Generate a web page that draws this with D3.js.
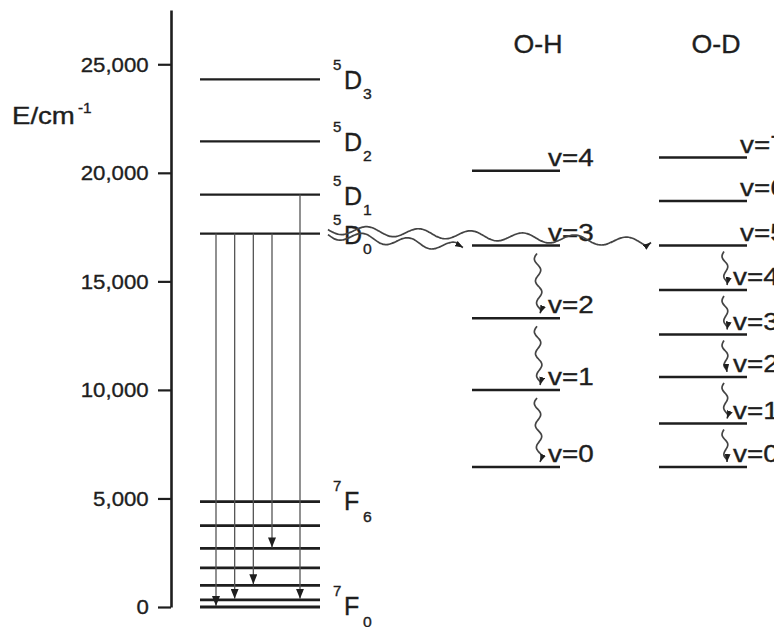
<!DOCTYPE html>
<html><head><meta charset="utf-8">
<script src="https://cdn.jsdelivr.net/npm/d3@7"></script>
<style>
html,body{margin:0;padding:0;background:#fff;}
svg{display:block;font-family:"Liberation Sans",Arial,Helvetica,sans-serif;}
</style></head>
<body>
<svg id="chart" width="774" height="627"></svg>
<script>
// ---------- data ----------
const yTicks = [0, 5000, 10000, 15000, 20000, 25000];
const euNames = ["5D3", "5D2", "5D1", "5D0", "7F6", "7F5", "7F4", "7F3", "7F2", "7F1", "7F0"];
const euEnergies = [24300, 21450, 19000, 17200, 4850, 3750, 2700, 1800, 1000, 330, 0];
const euLabelled = ["5D3", "5D2", "5D1", "5D0", "7F6", "7F0"];
const emissionFrom = ["5D0", "5D0", "5D0", "5D0", "5D1"];
const emissionTo = ["7F0", "7F1", "7F2", "7F4", "7F1"];
const columnTitles = ["O-H", "O-D"];
const ohQuanta = [0, 1, 2, 3, 4];
const ohEnergies = [6450, 10000, 13300, 16650, 20100];
const odQuanta = [0, 1, 2, 3, 4, 5, 6, 7];
const odEnergies = [6450, 8450, 10600, 12550, 14600, 16650, 18700, 20700];
const ohRelax = [[3, 2], [2, 1], [1, 0]];
const odRelax = [[5, 4], [4, 3], [3, 2], [2, 1], [1, 0]];

// ---------- setup ----------
const svg = d3.select("#chart");
const ink = "#1e1e1e";
const y = d3.scaleLinear().domain([0, 27500]).range([607, 10]);
const euE = new Map(euNames.map((n, i) => [n, euEnergies[i]]));
const euX = [200, 320], ohX = [472, 560], odX = [659, 747];

const defs = svg.append("defs");
defs.append("marker").attr("id", "emArrow").attr("markerUnits", "userSpaceOnUse")
  .attr("viewBox", "0 0 10 8").attr("refX", 10).attr("refY", 4)
  .attr("markerWidth", 10).attr("markerHeight", 8).attr("orient", "auto")
  .append("path").attr("d", "M0,0 L10,4 L0,8 Z").attr("fill", ink);
defs.append("marker").attr("id", "wvArrow").attr("markerUnits", "userSpaceOnUse")
  .attr("viewBox", "0 0 8 6").attr("refX", 8).attr("refY", 3)
  .attr("markerWidth", 8).attr("markerHeight", 6).attr("orient", "auto")
  .append("path").attr("d", "M0,0 L8,3 L0,6 Z").attr("fill", ink);

function stext(g, x, yy, str, size, sx, anchor) {
  return g.append("text")
    .attr("transform", `translate(${x},${yy}) scale(${sx || 1},1)`)
    .attr("font-size", size).attr("fill", ink)
    .attr("stroke", ink).attr("stroke-width", 0.35)
    .attr("text-anchor", anchor || "start").text(str);
}

function wavePath(x0, y0, x1, y1, wl, amp) {
  const dx = x1 - x0, dy = y1 - y0, L = Math.hypot(dx, dy);
  const ux = dx / L, uy = dy / L, nx = -uy, ny = ux;
  const n = Math.ceil(L / 1.5), pts = [];
  for (let i = 0; i <= n; i++) {
    const t = i / n * L;
    const env = Math.min(1, (L - t) / 5);
    const off = amp * env * Math.sin(2 * Math.PI * t / wl);
    pts.push([x0 + ux * t + nx * off, y0 + uy * t + ny * off]);
  }
  return d3.line().curve(d3.curveBasis)(pts);
}

// ---------- axis ----------
const axis = svg.append("g").attr("transform", "translate(171,0)")
  .call(d3.axisLeft(y).tickValues(yTicks).tickFormat(d3.format(","))
    .tickSize(13).tickPadding(8).tickSizeOuter(0));
axis.select(".domain").attr("stroke", ink).attr("stroke-width", 2.6);
axis.selectAll(".tick line").attr("stroke", ink).attr("stroke-width", 2.2);
axis.selectAll(".tick text").attr("font-size", 21).attr("fill", ink)
  .attr("stroke", ink).attr("stroke-width", 0.35)
  .attr("font-family", "Liberation Sans, Arial, sans-serif")
  .attr("transform", "scale(1.06,1)");

const yl = svg.append("g");
stext(yl, 12, 124, "E/cm", 23, 1.2);
stext(yl, 78, 113, "-1", 14, 1.1);

// ---------- Eu levels ----------
svg.append("g").selectAll("line").data(euNames).join("line")
  .attr("x1", euX[0]).attr("x2", euX[1])
  .attr("y1", d => y(euE.get(d))).attr("y2", d => y(euE.get(d)))
  .attr("stroke", ink).attr("stroke-width", d => d[1] === "F" ? 2.8 : 2.2);

// emission lines
const emFromD0 = d3.scaleLinear().domain([0, 3]).range([216, 272]);
const emG = svg.append("g");
emissionFrom.forEach((f, i) => {
  const x = f === "5D0" ? emFromD0(i) : euX[1] - 20;
  emG.append("line").attr("x1", x).attr("x2", x)
    .attr("y1", y(euE.get(f))).attr("y2", y(euE.get(emissionTo[i])) - 1)
    .attr("stroke", "#555").attr("stroke-width", 1.3)
    .attr("marker-end", "url(#emArrow)");
});

// Eu term labels
const lab = svg.append("g");
euLabelled.forEach(n => {
  const ly = y(euE.get(n));
  const isF = n[1] === "F";
  stext(lab, 333, ly - (isF ? 11 : 9), n[0], 15, 1.0);
  stext(lab, 344, ly + (isF ? 8 : 10), n[1], 25, 1.0);
  stext(lab, 363, ly + 20, n[2], 15, 1.05);
});

// ---------- vibrational ladders ----------
const titles = svg.append("g");
stext(titles, 538, 53, columnTitles[0], 25, 1.07, "middle");
stext(titles, 716, 53, columnTitles[1], 25, 1.07, "middle");

const oh = svg.append("g");
oh.selectAll("line").data(ohEnergies).join("line")
  .attr("x1", ohX[0]).attr("x2", ohX[1])
  .attr("y1", d => y(d)).attr("y2", d => y(d))
  .attr("stroke", ink).attr("stroke-width", 2.5);
ohQuanta.forEach((q, i) => stext(oh, 548, y(ohEnergies[i]) - 5, "v=" + q, 24, 1.16));

const od = svg.append("g");
od.selectAll("line").data(odEnergies).join("line")
  .attr("x1", odX[0]).attr("x2", odX[1])
  .attr("y1", d => y(d)).attr("y2", d => y(d))
  .attr("stroke", ink).attr("stroke-width", 2.5);
odQuanta.forEach((q, i) => stext(od, q >= 5 ? 740 : 733, y(odEnergies[i]) - 5, "v=" + q, 24, 1.16));

// ---------- energy transfer waves ----------
const wv = svg.append("g").attr("fill", "none").attr("stroke", "#444").attr("stroke-width", 1.7);
const yD0 = y(euE.get("5D0"));
wv.append("path").attr("d", wavePath(328, yD0 - 4, odX[0] - 8, y(odEnergies[5]) - 3, 52, 4.5))
  .attr("marker-end", "url(#wvArrow)");
wv.append("path").attr("d", wavePath(328, yD0 + 1, ohX[0] - 9, y(ohEnergies[3]) + 2, 46, 4.5))
  .attr("marker-end", "url(#wvArrow)");

// vertical relaxation waves
ohRelax.forEach(([a, b]) => {
  wv.append("path").attr("d", wavePath(537, y(ohEnergies[a]) + 8, 540, y(ohEnergies[b]) - 5, 22, 3))
    .attr("marker-end", "url(#wvArrow)");
});
odRelax.forEach(([a, b]) => {
  wv.append("path").attr("d", wavePath(724, y(odEnergies[a]) + 6, 727, y(odEnergies[b]) - 5, 20, 2.5))
    .attr("marker-end", "url(#wvArrow)");
});
</script>
</body></html>
